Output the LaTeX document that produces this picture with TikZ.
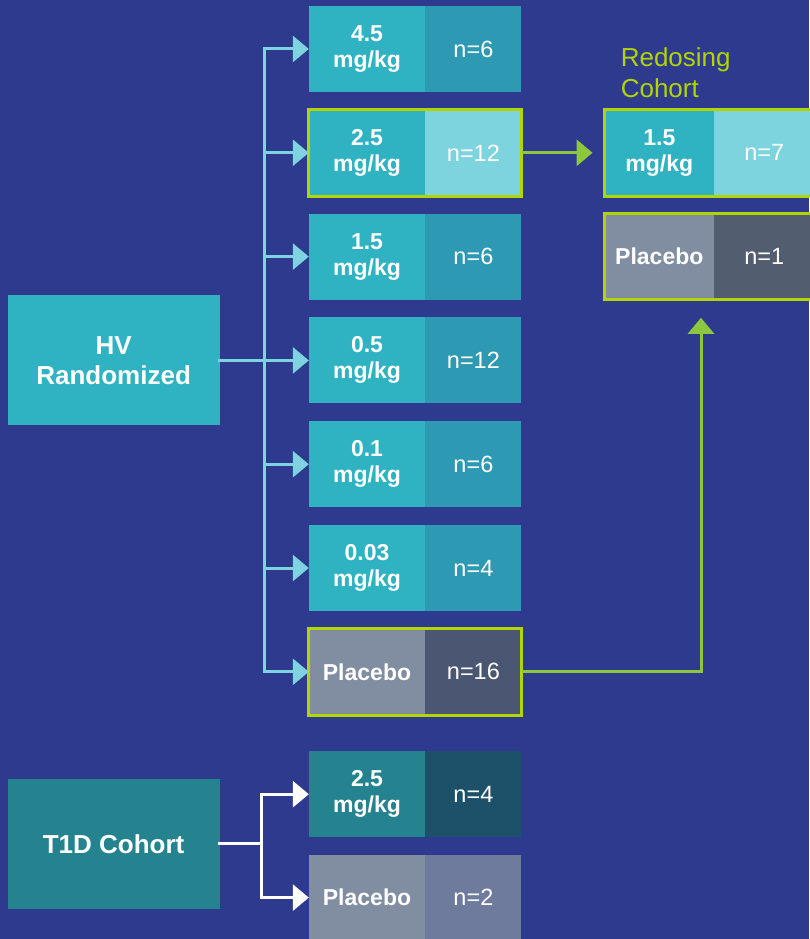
\documentclass[tikz,border=0pt]{standalone}
\usepackage{fontspec}
\setmainfont{Liberation Sans}
\usetikzlibrary{positioning,arrows.meta,calc}

\definecolor{bgblue}{HTML}{2E3A8D}
\definecolor{doseL}{HTML}{2FB2C1}
\definecolor{doseR}{HTML}{2E99B3}
\definecolor{lightR}{HTML}{7DD4DE}
\definecolor{plcL}{HTML}{818EA1}
\definecolor{plcR}{HTML}{4B5673}
\definecolor{redoR}{HTML}{525E6F}
\definecolor{tealL}{HTML}{24838F}
\definecolor{tealR}{HTML}{1C5169}
\definecolor{plcT}{HTML}{6F7B9D}
\definecolor{lime}{HTML}{B2D500}
\definecolor{limearrow}{HTML}{8DC63F}
\definecolor{cyanline}{HTML}{7FD3E0}

\begin{document}
\begin{tikzpicture}[
    x=1pt, y=-1pt,
    node distance=17.4pt,
    dose/.style={
        rectangle,
        fill=doseL,
        text=white,
        font=\bfseries\fontsize{23}{26}\selectfont,
        minimum width=116pt,
        minimum height=86pt,
        inner sep=0pt,
        align=center
    },
    count/.style={
        rectangle,
        fill=doseR,
        text=white,
        font=\fontsize{23.5}{26}\selectfont,
        minimum width=96pt,
        minimum height=86pt,
        inner sep=0pt,
        right=0pt of #1
    },
    cohort/.style={
        rectangle,
        fill=doseL,
        text=white,
        font=\bfseries\fontsize{26}{30}\selectfont,
        minimum width=212pt,
        minimum height=130pt,
        inner sep=0pt,
        align=center
    },
    limebox/.style={
        draw=lime,
        line width=3pt
    },
    cline/.style={
        line width=3pt,
        cyanline,
        line cap=rect
    },
    carrow/.style={
        -{Triangle[length=16pt,width=26pt]},
        line width=3pt,
        cyanline
    },
    wline/.style={
        line width=3pt,
        white,
        line cap=rect
    },
    warrow/.style={
        -{Triangle[length=16pt,width=26pt]},
        line width=3pt,
        white
    },
    garrow/.style={
        -{Triangle[length=16pt,width=26pt]},
        line width=3pt,
        limearrow
    },
    redo/.style={
        font=\fontsize{26}{31}\selectfont,
        text=lime,
        align=left,
        inner sep=0pt
    }
]

\useasboundingbox (0,0) rectangle (809,939);
\fill[bgblue] (0,0) rectangle (809,939);

% HV dose groups
\node[dose] (d45) at (367,49) {4.5\\mg/kg};
\node[count=d45] (n45) {n=6};

\node[dose, below=of d45] (d25) {2.5\\mg/kg};
\node[count=d25, fill=lightR] (n25) {n=12};

\node[dose, below=of d25] (d15) {1.5\\mg/kg};
\node[count=d15] (n15) {n=6};

\node[dose, below=of d15] (d05) {0.5\\mg/kg};
\node[count=d05] (n05) {n=12};

\node[dose, below=of d05] (d01) {0.1\\mg/kg};
\node[count=d01] (n01) {n=6};

\node[dose, below=of d01] (d003) {0.03\\mg/kg};
\node[count=d003] (n003) {n=4};

\node[dose, fill=plcL, below=of d003] (dplc) {Placebo};
\node[count=dplc, fill=plcR] (nplc) {n=16};

\draw[limebox] (d25.north west) rectangle (n25.south east);
\draw[limebox] (dplc.north west) rectangle (nplc.south east);

% HV cohort
\node[cohort, left=89pt of d05] (hv) {HV\\Randomized};

% T1D groups
\node[dose, fill=tealL, below=36pt of dplc] (t25) {2.5\\mg/kg};
\node[count=t25, fill=tealR] (nt25) {n=4};

\node[dose, fill=plcL, below=17pt of t25] (tplc) {Placebo};
\node[count=tplc, fill=plcT] (ntplc) {n=2};

\coordinate (t1dmid) at ($(t25.south)!0.5!(tplc.north)$);
\node[cohort, fill=tealL] (t1d) at ([yshift=2pt]hv |- t1dmid) {T1D Cohort};

% Redosing cohort
\node[dose, right=83pt of n25, minimum width=109pt] (r15) {1.5\\mg/kg};
\node[count=r15, fill=lightR, minimum width=100pt] (rn15) {n=7};

\node[dose, fill=plcL, below=of r15, minimum width=109pt] (rplc) {Placebo};
\node[count=rplc, fill=redoR, minimum width=100pt] (rnplc) {n=1};

\draw[limebox] (r15.north west) rectangle (rn15.south east);
\draw[limebox] (rplc.north west) rectangle (rnplc.south east);

\node[redo, above=12pt of r15.north west, anchor=south west, xshift=16pt] (redolbl) {Redosing\\Cohort};

% HV fan-out
\coordinate[right=45pt of hv] (hvfork);
\draw[cline] (hv.east) -- (hvfork);
\draw[cline] (hvfork |- d45.west) -- (hvfork |- dplc.west);
\foreach \r in {d45,d25,d15,d05,d01,d003,dplc}
    \draw[carrow] (hvfork |- \r.west) -- (\r.west);

% T1D fan-out
\coordinate[right=42pt of t1d] (t1dfork);
\draw[wline] (t1d.east) -- (t1dfork);
\draw[wline] (t1dfork |- t25.west) -- (t1dfork |- tplc.west);
\foreach \r in {t25,tplc}
    \draw[warrow] (t1dfork |- \r.west) -- (\r.west);

% Redosing arrows
\draw[garrow, shorten >=12pt] (n25.east) -- (r15.west);
\draw[garrow] (nplc.east) -| ([xshift=-13pt,yshift=-18pt]rplc.south east);

\end{tikzpicture}
\end{document}
